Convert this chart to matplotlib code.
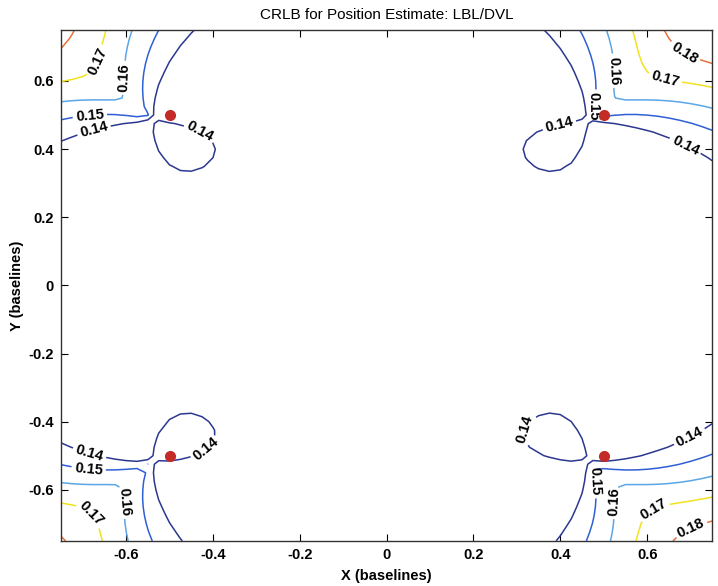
import numpy as np
import matplotlib
matplotlib.use("Agg")
import matplotlib.pyplot as plt

plt.rcParams["font.family"] = ["Liberation Sans", "DejaVu Sans"]

# ---- data ----
beacon_x = [-0.5, 0.5, -0.5, 0.5]
beacon_y = [0.5, 0.5, -0.5, -0.5]
levels = [0.14, 0.15, 0.16, 0.17, 0.18, 0.19]
level_colors = ["#2c3790", "#2f5fd6", "#5aa6e6", "#f2e21e", "#e8703a", "#d0281c"]
xticks = [-0.6, -0.4, -0.2, 0, 0.2, 0.4, 0.6]
yticks = [-0.6, -0.4, -0.2, 0, 0.2, 0.4, 0.6]
tick_text = ["-0.6", "-0.4", "-0.2", "0", "0.2", "0.4", "0.6"]

# CRLB model parameters (fitted to the contour crossings of the reference)
crlb_scale = 0.1298      # baselines
crlb_power = 0.548
depth_offset = 0.0       # vertical offset vehicle/beacon plane (baselines)
grid_shift_x = -0.04     # offset of the evaluation grid seen in the original
grid_shift_y = -0.02


def crlb(X, Y):
    Jxx = np.zeros_like(X); Jyy = np.zeros_like(X); Jxy = np.zeros_like(X)
    for bx, by in zip(beacon_x, beacon_y):
        dx = X - grid_shift_x - bx
        dy = Y - grid_shift_y - by
        r2 = dx**2 + dy**2 + depth_offset**2 + 1e-9
        Jxx += dx * dx / r2
        Jyy += dy * dy / r2
        Jxy += dx * dy / r2
    tr_inv = (Jxx + Jyy) / (Jxx * Jyy - Jxy**2)
    return crlb_scale * tr_inv ** crlb_power


g = np.linspace(-0.75, 0.75, 61)
X, Y = np.meshgrid(g, g)
Z = crlb(X, Y)

fig = plt.figure(figsize=(7.18, 5.86), dpi=100)
ax = fig.add_axes([0.085, 0.077, 0.907, 0.872])
cs = ax.contour(X, Y, Z, levels=levels, colors=level_colors, linewidths=1.1)
label_pos = [(-0.653, 0.653), (-0.595, 0.609), (-0.683, 0.49), (-0.671, 0.438), (-0.43, 0.45),
             (0.675, 0.66), (0.64, 0.60), (0.52, 0.63), (0.49, 0.52), (0.40, 0.46), (0.684, 0.40),
             (-0.687, -0.503), (-0.687, -0.547), (-0.60, -0.635), (-0.69, -0.688), (-0.41, -0.494),
             (0.307, -0.415), (0.70, -0.45), (0.49, -0.57), (0.537, -0.635), (0.618, -0.665), (0.70, -0.71)]
labels = ax.clabel(cs, levels=levels[:5], fmt="%.2f", fontsize=10.5, colors="black", inline=True,
                   inline_spacing=3, manual=label_pos)
for t in labels:
    t.set_fontweight("bold")
ax.plot(beacon_x, beacon_y, "o", color="#c42a26", markersize=7, zorder=5)

ax.set_xlim(-0.75, 0.75)
ax.set_ylim(-0.75, 0.75)
ax.set_xticks(xticks)
ax.set_yticks(yticks)
ax.set_xticklabels(tick_text)
ax.set_yticklabels(tick_text)
for t in ax.get_xticklabels() + ax.get_yticklabels():
    t.set_fontsize(10.5); t.set_fontweight("bold")
ax.tick_params(direction="in", length=5, top=True, right=True, pad=5)
ax.set_xlabel("X (baselines)", fontsize=10.5, fontweight="bold", labelpad=5)
ax.set_ylabel("Y (baselines)", fontsize=10.5, fontweight="bold", labelpad=3)
ax.set_title("CRLB for Position Estimate: LBL/DVL", fontsize=11, pad=8)
for s in ax.spines.values():
    s.set_linewidth(1.0); s.set_color("#333333")
fig.savefig("out.png", dpi=100)
